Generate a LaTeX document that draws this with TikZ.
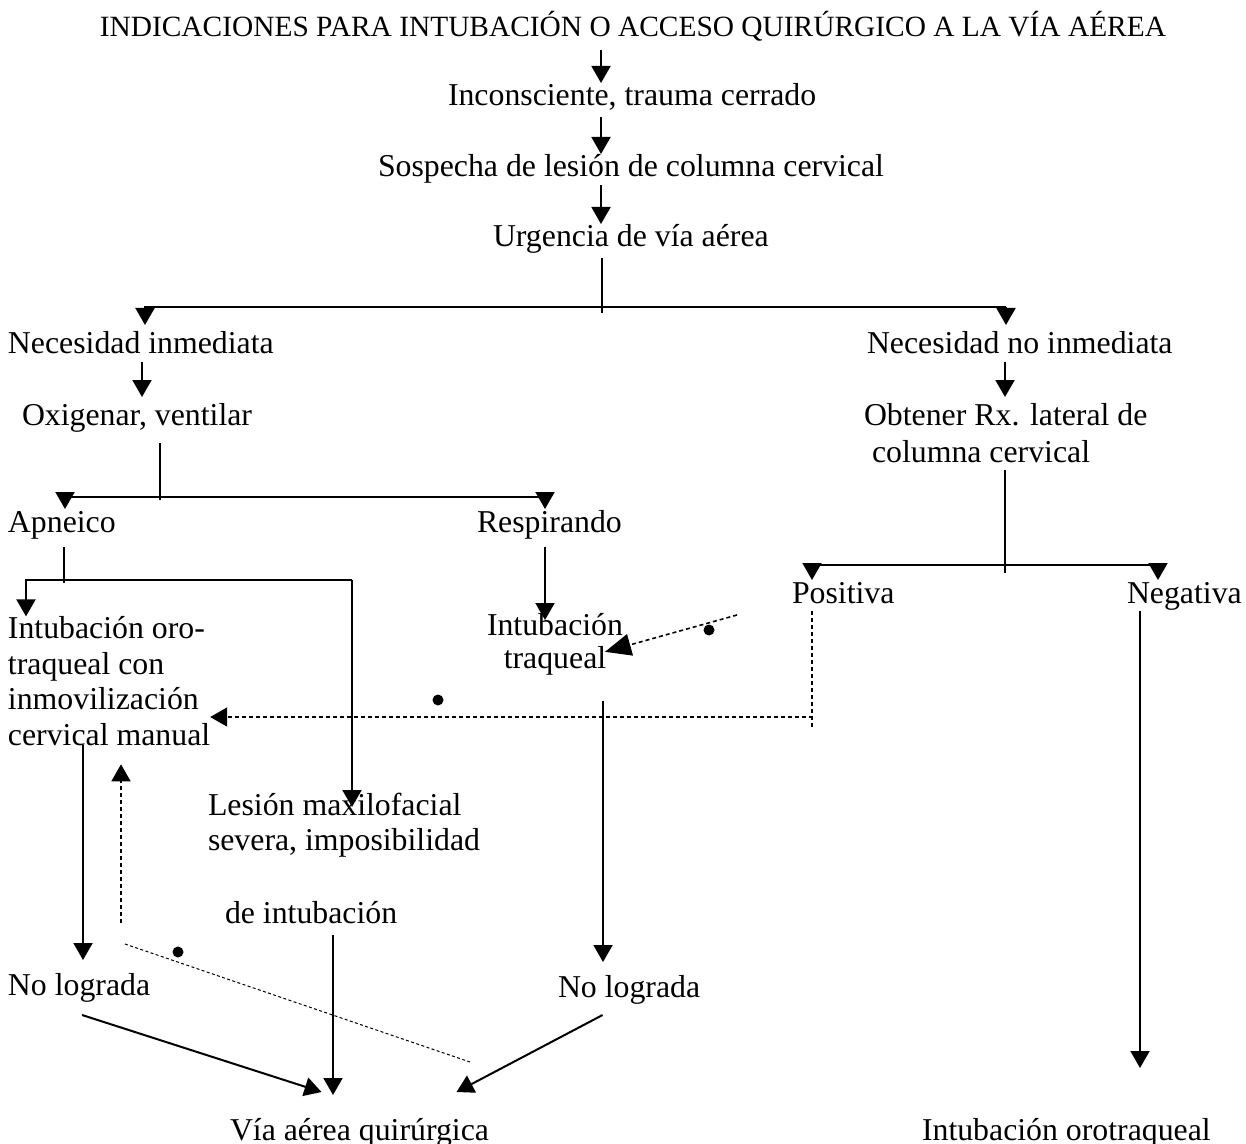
\documentclass[tikz,border=0pt]{standalone}
\usepackage{fontspec}
\setmainfont{Liberation Serif}
\usetikzlibrary{arrows.meta}
\tikzset{
  txt/.style={inner sep=0pt,outer sep=0pt,anchor=base west,text height=11.5pt,text depth=4pt},
  blk/.style={inner sep=0pt,outer sep=0pt,anchor=base west,align=left},
  arr/.style={-{Triangle[length=8.5pt,width=9.5pt]}},
  bigarr/.style={-{Triangle[length=13pt,width=11pt]}},
  dots/.style={line width=0.8pt,dash pattern=on 2pt off 1.5pt},
  fdots/.style={line width=0.5pt,dash pattern=on 1.5pt off 1.2pt},
}
\newcommand{\marca}[2]{\fill (#1,#2) circle (5.5);}

\begin{document}
\begin{tikzpicture}[x=0.5pt,y=-0.5pt,line width=1pt,font=\fontsize{15.9}{17.75}\selectfont]
\useasboundingbox (0,0) rectangle (1246,1144);
%nodes
\node[txt,anchor=base,font=\fontsize{14.7}{16}\selectfont] (ttl) at (633,37) {INDICACIONES PARA INTUBACIÓN O ACCESO QUIRÚRGICO A LA VÍA AÉREA};
\node[txt] (inc) at (448,106) {Inconsciente, trauma cerrado};
\node[txt] (sos) at (378,177) {Sospecha de lesión de columna cervical};
\node[txt] (urg) at (493,247) {Urgencia de vía aérea};
\node[txt] (nin) at (8,354) {Necesidad inmediata};
\node[txt] (nni) at (867,354) {Necesidad no inmediata};
\node[txt] (oxi) at (22,425) {Oxigenar, ventilar};
\node[blk,font=\fontsize{15.9}{18.5}\selectfont] (rx) at (864,462) {Obtener Rx. lateral de\\\hspace*{4pt}columna cervical};
\node[txt] (apn) at (8,532) {Apneico};
\node[txt] (res) at (477,532) {Respirando};
\node[txt] (pos) at (792,603) {Positiva};
\node[txt] (neg) at (1127,603) {Negativa};
\node[blk] (iom) at (8,745) {Intubación oro-\\traqueal con\\inmovilización\\cervical manual};
\node[blk,align=center,font=\fontsize{15.9}{16.5}\selectfont] (itr) at (487,668) {Intubación\\traqueal};
\node[blk,font=\fontsize{15.9}{17.5}\selectfont] (les) at (208,923) {Lesión maxilofacial\\severa, imposibilidad\\[19pt]\hspace*{8.5pt}de intubación};
\node[txt] (nl1) at (8,995) {No lograda};
\node[txt] (nl2) at (558,997) {No lograda};
\node[txt] (vaq) at (230,1140) {Vía aérea quirúrgica};
\node[txt] (iot) at (922,1140) {Intubación orotraqueal};

%columns and branch points
\coordinate (sp) at (601,0);
\coordinate (u1) at (602,313);
\coordinate (hl) at (145,307);
\coordinate (hr) at (1006,307);
\coordinate (c2) at (142,0);
\coordinate (c3) at (1005,397);
\coordinate (o1) at (160,500);
\coordinate (bl) at (65,497);
\coordinate (br) at (545,497);
\coordinate (r2) at (1005,573);
\coordinate (pl) at (812,565);
\coordinate (pr) at (1158,565);
\coordinate (a1) at (64,583);
\coordinate (al) at (26,580);
\coordinate (ar) at (352,580);
\coordinate (ar2) at (352,807);
\coordinate (t1) at (545,620);
\coordinate (t2) at (603,0);
\coordinate (c5) at (83,0);
\coordinate (c6) at (333,0);
\coordinate (ng) at (1140,611);
\coordinate (pk) at (813,717);
\coordinate (q1) at (737,615);
\coordinate (up) at (121,923);
\coordinate (fd1) at (125,944);
\coordinate (fd2) at (470,1062);

%edges
\draw[arr,shorten <=2.5pt] (ttl.south -| sp) -- (inc.north -| sp);
\draw[arr,shorten <=1.5pt] (inc.south -| sp) -- (sos.north -| sp);
\draw[arr] (sos.south -| sp) -- (urg.north -| sp);
\draw[shorten <=1.5pt] (urg.south -| u1) -- (u1);
\draw[arr,shorten >=3pt] (hr) -- (hl) -- (nin.north -| hl);
\draw[arr,shorten >=3pt] (hr) -- (nni.north -| hr);
\draw[arr,shorten >=2.5pt] (nin.south -| c2) -- (oxi.north -| c2);
\draw[arr] (nni.south -| c3) -- (c3);
\draw[shorten <=5pt] (oxi.south -| o1) -- (o1);
\draw[arr] (br) -- (bl) -- (apn.north -| bl);
\draw[arr] (br) -- (res.north -| br);
\draw[shorten <=4pt] (rx.south -| r2) -- (r2);
\draw[arr] (pr) -- (pl) -- (pos.north -| pl);
\draw[arr] (pr) -- (neg.north -| pr);
\draw[shorten <=3.5pt] (apn.south -| a1) -- (a1);
\draw[arr] (ar) -- (al) -- (iom.north -| al);
\draw[arr] (ar) -- (ar2);
\draw[arr,shorten <=3.5pt] (res.south -| t1) -- (t1);
\draw[arr,shorten <=13pt,shorten >=6pt] (itr.south -| t2) -- (nl2.north -| t2);
\draw[arr,shorten >=6pt] (iom.south -| c5) -- (nl1.north -| c5);
\draw[arr,shorten <=6pt,shorten >=11pt] (les.south -| c6) -- (vaq.north -| c6);
\draw[arr] ([xshift=1.5pt,yshift=-6pt]nl1.south) -- ([xshift=-19pt,yshift=12.5pt]vaq.north);
\draw[arr] ([xshift=-13.25pt,yshift=-5pt]nl2.south) -- ([xshift=48.5pt,yshift=12.5pt]vaq.north);
\draw[arr,shorten >=24.5pt] (ng) -- (ng |- iot.north);

%dotted
\draw[dots] (pos.south -| pl) -- ++(0,118);
\draw[dots,arr] (pk) -- (pk -| iom.east);
\draw[dots,bigarr] (q1) -- ([xshift=-9pt,yshift=-4pt]itr.east);
\draw[dots,arr,shorten >=9.5pt] (up) -- (up |- iom.south);
\draw[fdots] (fd1) -- (fd2);
\marca{709}{630}
\marca{438}{700}
\marca{178}{952}
\end{tikzpicture}
\end{document}
